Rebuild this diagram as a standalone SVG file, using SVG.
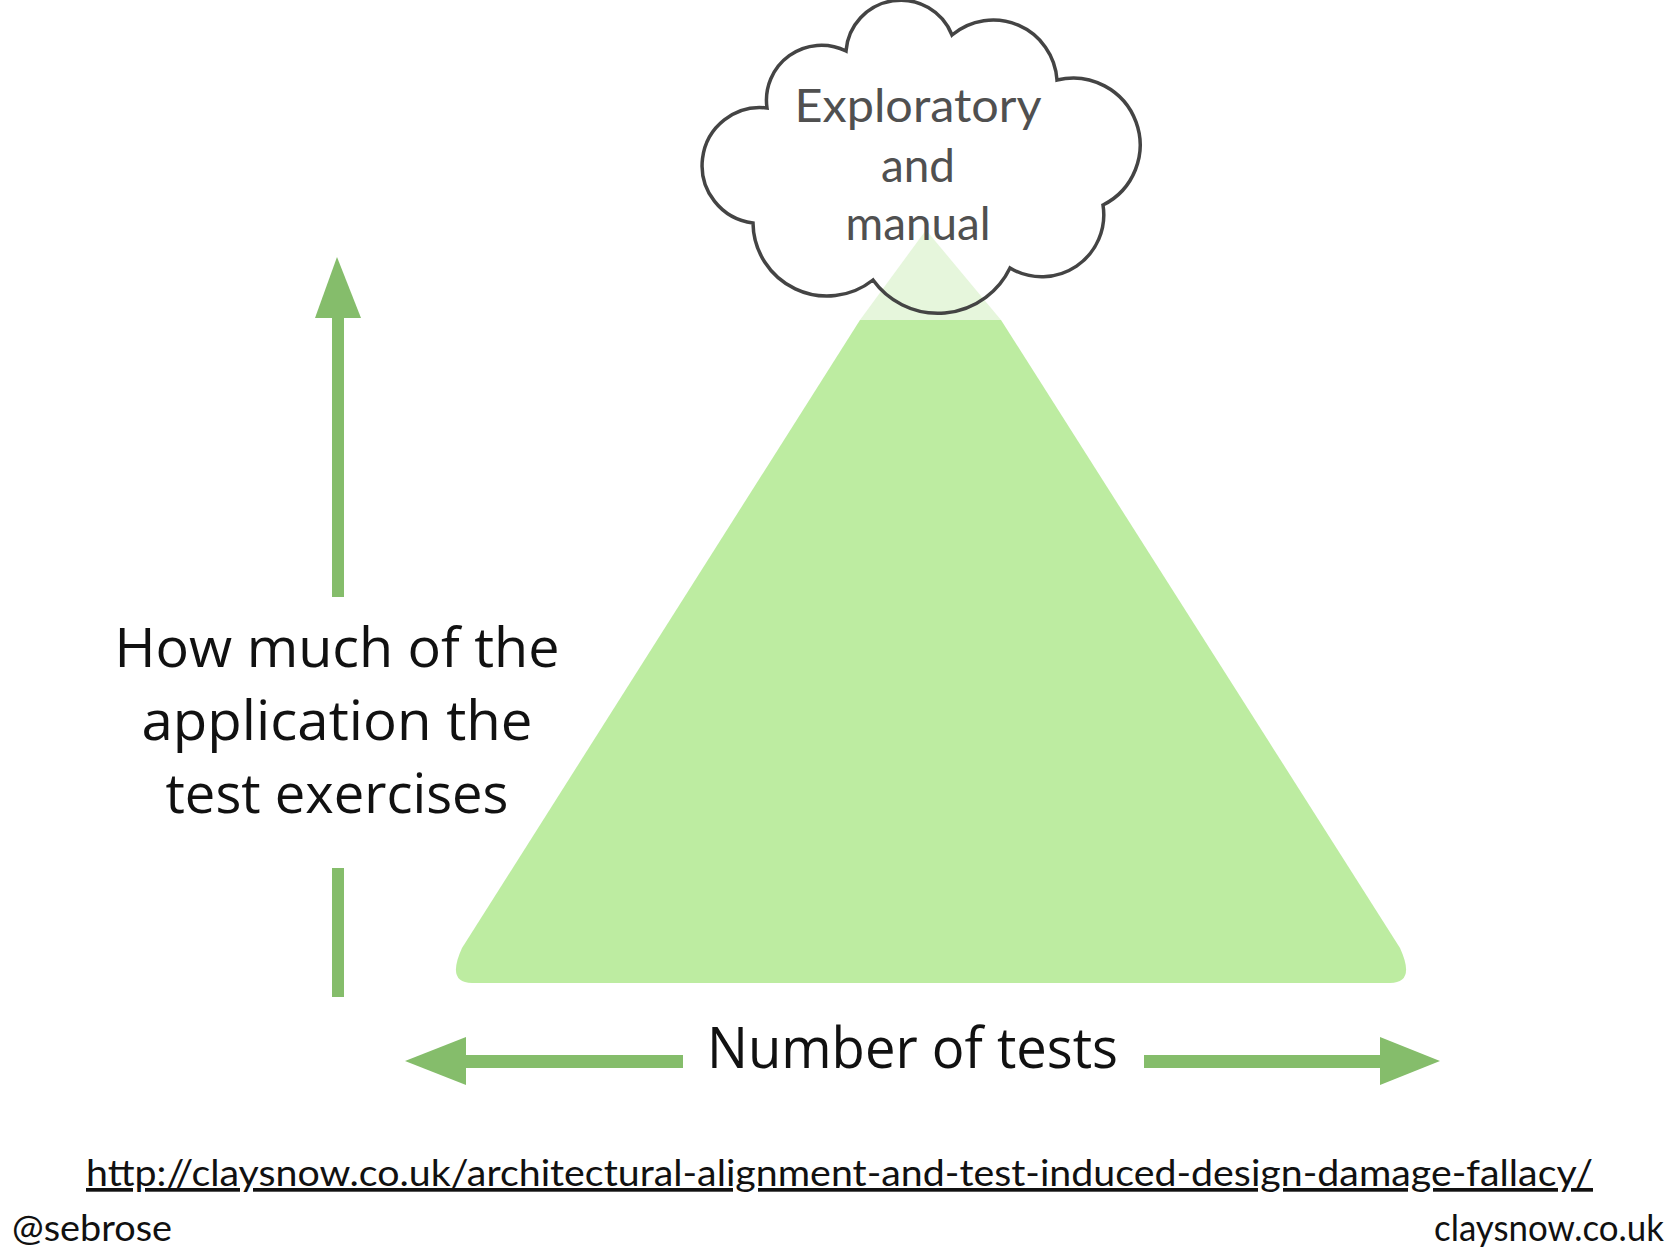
<svg xmlns="http://www.w3.org/2000/svg" width="1680" height="1260" viewBox="0 0 1680 1260">
  <style>
    .cloudtxt { font-family: Lato, "Open Sans", sans-serif; font-size: 46px; fill: #505050; text-anchor: middle; }
    .axis { font-family: "Open Sans", "Noto Sans", sans-serif; fill: #111; }
    .foot { font-family: Lato, "Liberation Sans", sans-serif; font-size: 37px; fill: #111; }
    .arrow { fill: #85bd6b; }
  </style>
  <rect x="0" y="0" width="1680" height="1260" fill="#ffffff"/>

  <g id="pyramid">
    <path d="M 926 230 L 1001 320 L 860 320 Z" fill="#e6f6dc"/>
    <path d="M 860 320 L 1001 320 L 1400 948 Q 1416 983 1390 983 L 472 983 Q 446 983 462 948 Z" fill="#bdeca1"/>
  </g>

  <g id="cloud">
    <path d="M 767 108 A 55 55 0 0 1 846 51 A 55 55 0 0 1 952 35 A 64 64 0 0 1 1057 80 A 67 67 0 0 1 1103 205 A 62 62 0 0 1 1010 268 A 80 80 0 0 1 873 280 A 74 74 0 0 1 753 223 A 57.5 57.5 0 0 1 767 108 Z" fill="none" stroke="#444" stroke-width="3.5" stroke-linejoin="miter"/>
    <text class="cloudtxt" x="918" y="122" textLength="247" lengthAdjust="spacingAndGlyphs">Exploratory</text>
    <text class="cloudtxt" x="918" y="182" textLength="74" lengthAdjust="spacingAndGlyphs">and</text>
    <text class="cloudtxt" x="918" y="240" textLength="145" lengthAdjust="spacingAndGlyphs">manual</text>
  </g>

  <g id="connectors">
    <g id="vertical-arrow">
      <polygon class="arrow" points="337,257 361,318 315,318"/>
      <rect class="arrow" x="332" y="316" width="12" height="281"/>
      <rect class="arrow" x="332" y="868" width="12" height="129"/>
    </g>
    <g id="horizontal-arrow">
      <polygon class="arrow" points="405,1061 466,1037 466,1085"/>
      <rect class="arrow" x="464" y="1055" width="219" height="13"/>
      <rect class="arrow" x="1144" y="1055" width="238" height="13"/>
      <polygon class="arrow" points="1440,1061 1380,1037 1380,1085"/>
    </g>
  </g>

  <g id="y-label">
    <text class="axis" font-size="54" x="337" y="667" text-anchor="middle" textLength="445" lengthAdjust="spacingAndGlyphs">How much of the</text>
    <text class="axis" font-size="54" x="337" y="740" text-anchor="middle" textLength="391" lengthAdjust="spacingAndGlyphs">application the</text>
    <text class="axis" font-size="54" x="337" y="813" text-anchor="middle" textLength="343" lengthAdjust="spacingAndGlyphs">test exercises</text>
  </g>

  <g id="x-label">
    <text class="axis" font-size="57" x="707" y="1068" textLength="411" lengthAdjust="spacingAndGlyphs">Number of tests</text>
  </g>

  <g id="footer">
    <text class="foot" x="86" y="1186" textLength="1507" lengthAdjust="spacingAndGlyphs" text-decoration="underline">http://claysnow.co.uk/architectural-alignment-and-test-induced-design-damage-fallacy/</text>
    <text class="foot" x="12" y="1241" textLength="160" lengthAdjust="spacingAndGlyphs">@sebrose</text>
    <text class="foot" x="1664" y="1241" text-anchor="end" textLength="230" lengthAdjust="spacingAndGlyphs">claysnow.co.uk</text>
  </g>
</svg>
